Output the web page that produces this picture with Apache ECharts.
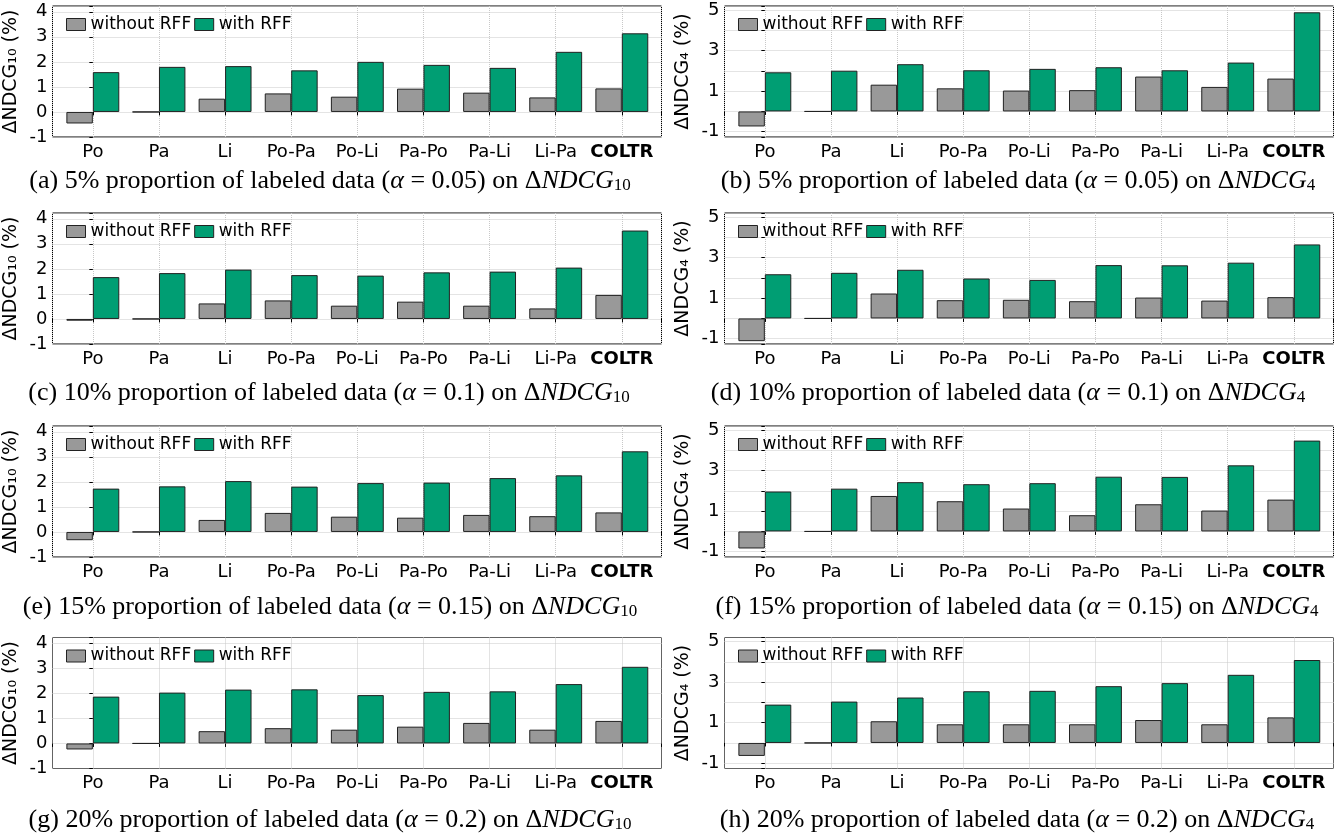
<!DOCTYPE html>
<html><head><meta charset="utf-8">
<script src="https://cdn.jsdelivr.net/npm/echarts@6/dist/echarts.min.js"></script>
<style>html,body{margin:0;padding:0;background:#fff}#c{width:1338px;height:838px}</style>
</head><body><div id="c"></div>
<script>
const categories = ['Po','Pa','Li','Po-Pa','Po-Li','Pa-Po','Pa-Li','Li-Pa','COLTR'];
const seriesNames = ['without RFF','with RFF'];
const yTicksNDCG10 = [-1,0,1,2,3,4];
const yTicksNDCG4 = [-1,1,3,5];

const a_without = [-0.46, 0, 0.53, 0.74, 0.61, 0.93, 0.77, 0.58, 0.94];
const a_with    = [1.59, 1.80, 1.83, 1.66, 2.00, 1.88, 1.76, 2.40, 3.14];
const b_without = [-0.74, 0, 1.32, 1.14, 1.03, 1.05, 1.72, 1.21, 1.62];
const b_with    = [1.93, 2.01, 2.33, 2.03, 2.10, 2.18, 2.03, 2.41, 4.89];
const c_without = [-0.07, 0, 0.62, 0.74, 0.53, 0.69, 0.53, 0.42, 0.96];
const c_with    = [1.67, 1.83, 1.97, 1.75, 1.73, 1.86, 1.89, 2.05, 3.53];
const d_without = [-1.12, 0, 1.23, 0.90, 0.92, 0.85, 1.03, 0.88, 1.05];
const d_with    = [2.18, 2.25, 2.40, 1.97, 1.90, 2.63, 2.62, 2.75, 3.65];
const e_without = [-0.33, 0, 0.48, 0.76, 0.61, 0.57, 0.68, 0.63, 0.78];
const e_with    = [1.73, 1.82, 2.03, 1.81, 1.95, 1.97, 2.15, 2.26, 3.22];
const f_without = [-0.84, 0, 1.75, 1.49, 1.13, 0.80, 1.34, 1.03, 1.57];
const f_with    = [1.97, 2.11, 2.43, 2.33, 2.38, 2.70, 2.69, 3.26, 4.48];
const g_without = [-0.24, 0, 0.49, 0.61, 0.55, 0.67, 0.82, 0.55, 0.90];
const g_with    = [1.87, 2.03, 2.15, 2.16, 1.93, 2.06, 2.08, 2.37, 3.06];
const h_without = [-0.64, 0, 1.07, 0.92, 0.92, 0.92, 1.13, 0.92, 1.26];
const h_with    = [1.89, 2.04, 2.24, 2.55, 2.57, 2.80, 2.95, 3.36, 4.09];

const captions = [
  '(a) 5% proportion of labeled data ({i|α} = 0.05) on Δ{i|NDCG}{s|10}',
  '(b) 5% proportion of labeled data ({i|α} = 0.05) on Δ{i|NDCG}{s|4}',
  '(c) 10% proportion of labeled data ({i|α} = 0.1) on Δ{i|NDCG}{s|10}',
  '(d) 10% proportion of labeled data ({i|α} = 0.1) on Δ{i|NDCG}{s|4}',
  '(e) 15% proportion of labeled data ({i|α} = 0.15) on Δ{i|NDCG}{s|10}',
  '(f) 15% proportion of labeled data ({i|α} = 0.15) on Δ{i|NDCG}{s|4}',
  '(g) 20% proportion of labeled data ({i|α} = 0.2) on Δ{i|NDCG}{s|10}',
  '(h) 20% proportion of labeled data ({i|α} = 0.2) on Δ{i|NDCG}{s|4}'
];

const panels = [
  {w: a_without, r: a_with, m: '10'}, {w: b_without, r: b_with, m: '4'},
  {w: c_without, r: c_with, m: '10'}, {w: d_without, r: d_with, m: '4'},
  {w: e_without, r: e_with, m: '10'}, {w: f_without, r: f_with, m: '4'},
  {w: g_without, r: g_with, m: '10'}, {w: h_without, r: h_with, m: '4'}
];

const colLeft = [52.5, 724.5];
const rowTop = [6, 213, 426, 637.5];
const gridW = 609, gridH = 131;
const capX = [330, 1018, 329, 1008, 330, 1017, 330, 1017];
const capY = [181, 393, 607, 820];
const FONT = 'DejaVu Sans';
const SERIF = 'Liberation Serif';
const CAP = 26;

const grid = [], xAxis = [], yAxis = [], series = [], legend = [], graphic = [];
panels.forEach((p, k) => {
  const col = k % 2, row = Math.floor(k / 2);
  const left = colLeft[col], top = rowTop[row];
  const isTen = p.m === '10';
  const ticks = isTen ? yTicksNDCG10 : yTicksNDCG4;
  grid.push({left: left, top: top, width: gridW, height: gridH, show: true,
    borderColor: '#000', borderWidth: 1, backgroundColor: 'transparent', containLabel: false});
  xAxis.push({type: 'value', gridIndex: k, min: -0.61, max: 8.6, splitNumber: 9,
    axisLine: {show: false},
    axisTick: {show: true, length: 3.5, lineStyle: {color: '#000'}},
    axisLabel: {show: true, margin: 6, color: '#000', fontSize: 18, fontFamily: FONT,
      formatter: v => {
        if (!Number.isInteger(v) || v < 0 || v >= categories.length) return '';
        const c = categories[v];
        return c === 'COLTR' ? '{b|' + c + '}' : c;
      },
      rich: {b: {fontWeight: 'bold', fontSize: 18, fontFamily: FONT, color: '#000'}}},
    splitLine: {show: true, lineStyle: {color: '#c8c8c8', type: 'dotted', width: 1}}});
  yAxis.push({type: 'value', gridIndex: k, min: isTen ? -1 : -1.26, max: isTen ? 4.23 : 5.2,
    name: isTen ? 'ΔNDCG₁₀ (%)' : 'ΔNDCG₄ (%)', nameLocation: 'middle', nameGap: 32,
    nameTextStyle: {fontSize: 19, fontFamily: FONT, color: '#000'},
    axisLine: {show: false},
    axisTick: {show: true, length: 3.5, lineStyle: {color: '#000'}},
    axisLabel: {margin: 5, color: '#000', fontSize: 18, fontFamily: FONT,
      formatter: v => ticks.indexOf(v) >= 0 ? String(v) : ''},
    splitLine: {show: true, lineStyle: {color: '#c8c8c8', type: 'dotted', width: 1}}});
  [p.w, p.r].forEach((vals, s) => {
    series.push({type: 'bar', name: seriesNames[s], xAxisIndex: k, yAxisIndex: k,
      data: vals.map((v, i) => [i, v]), barGap: '0%', barCategoryGap: '20%',
      itemStyle: {color: s === 0 ? '#999999' : '#009E73', borderColor: '#222', borderWidth: 1},
      emphasis: {disabled: true}, silent: true});
  });
  legend.push({data: seriesNames, left: left + 13.5, top: top + 10, padding: 0,
    itemWidth: 19, itemHeight: 12, itemGap: 3, selectedMode: false,
    icon: 'rect', itemStyle: {borderColor: '#222', borderWidth: 1},
    textStyle: {fontSize: 17, fontFamily: FONT, color: '#000'}});
  graphic.push({type: 'text', x: capX[k], y: capY[row], silent: true,
    style: {text: captions[k], fill: '#000', font: CAP + 'px "' + SERIF + '"',
      align: 'center', verticalAlign: 'middle',
      rich: {
        i: {fontStyle: 'italic', fontSize: CAP, fontFamily: SERIF, fill: '#000'},
        s: {fontSize: 17, fontFamily: SERIF, fill: '#000', verticalAlign: 'bottom', lineHeight: 14}
      }}});
});

const chart = echarts.init(document.getElementById('c'), null, {renderer: 'canvas'});
chart.setOption({animation: false, grid, xAxis, yAxis, series, legend, graphic});
</script></body></html>
